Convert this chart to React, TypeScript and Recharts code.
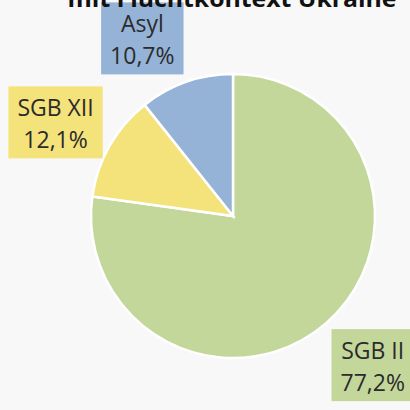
// Anteile nach Rechtskreis — Kreisdiagramm mit Beschriftungsboxen
import { Cell, Pie, PieChart } from "recharts";

const categories = ["SGB II", "SGB XII", "Asyl"];
const shares = [77.2, 12.1, 10.7];
const colors = ["#c4d79b", "#f4e27b", "#95b3d7"];
const titleLine = "mit Fluchtkontext Ukraine";

const data = categories.map((name, i) => ({ name, value: shares[i], color: colors[i] }));

const LABEL_FONT = "'Open Sans', 'Noto Sans', sans-serif";
const LABEL_SIZE = 23;
const RAD = Math.PI / 180;

let ctx: CanvasRenderingContext2D | null = null;
function textWidth(t: string) {
  if (!ctx) ctx = document.createElement("canvas").getContext("2d");
  if (!ctx) return t.length * LABEL_SIZE * 0.55;
  ctx.font = `${LABEL_SIZE}px 'Open Sans'`;
  return ctx.measureText(t).width;
}

const fmt = (v: number) => `${v.toFixed(1).replace(".", ",")}%`;

// Excel-artige "Ende außerhalb"-Beschriftung: Boxecke am Kreisrand entlang des Mittelwinkels
function renderLabel(props: any) {
  const { cx, cy, midAngle, outerRadius, index } = props;
  const d = data[index];
  const l1 = d.name;
  const l2 = fmt(d.value);
  const w = Math.max(textWidth(l1), textWidth(l2)) + 18;
  const h = 72;
  const dx = Math.cos(-midAngle * RAD);
  const dy = Math.sin(-midAngle * RAD);
  const R = outerRadius + 8;
  const px = cx + R * dx;
  const py = cy + R * dy;
  const left = dx >= 0 ? px : px - w;
  const up = -dy;
  const f = Math.sign(up) * Math.min(1, Math.pow(Math.abs(up) / 0.75, 1.5));
  const top = py - f * (h / 2) - h / 2;
  const mx = left + w / 2;
  return (
    <g key={`lbl-${index}`}>
      <rect x={left} y={top} width={w} height={h} fill={d.color} />
      <text x={mx} y={top + 30} textAnchor="middle" fontFamily={LABEL_FONT} fontSize={LABEL_SIZE} fill="#2b2b2b">
        {l1}
      </text>
      <text x={mx} y={top + 62} textAnchor="middle" fontFamily={LABEL_FONT} fontSize={LABEL_SIZE} fill="#2b2b2b">
        {l2}
      </text>
    </g>
  );
}

export default function App() {
  return (
    <div style={{ position: "fixed", left: 0, top: 0, width: 410, height: 410, background: "#f8f8f8", overflow: "hidden" }}>
      <PieChart width={410} height={410} margin={{ top: 0, right: 0, bottom: 0, left: 0 }}>
        <Pie
          data={data}
          dataKey="value"
          nameKey="name"
          cx={233}
          cy={216}
          outerRadius={142}
          startAngle={90}
          endAngle={-270}
          stroke="#ffffff"
          strokeWidth={2.5}
          label={renderLabel}
          labelLine={false}
          isAnimationActive={false}
        >
          {data.map((d, i) => (
            <Cell key={i} fill={d.color} />
          ))}
        </Pie>
      </PieChart>
      <svg width={410} height={410} style={{ position: "absolute", left: 0, top: 0, pointerEvents: "none" }}>
        <text x={232} y={7} textAnchor="middle" fontFamily="'Open Sans', sans-serif" fontWeight={700} fontSize={24} textLength={329} lengthAdjust="spacingAndGlyphs" fill="#111">
          {titleLine}
        </text>
      </svg>
    </div>
  );
}
